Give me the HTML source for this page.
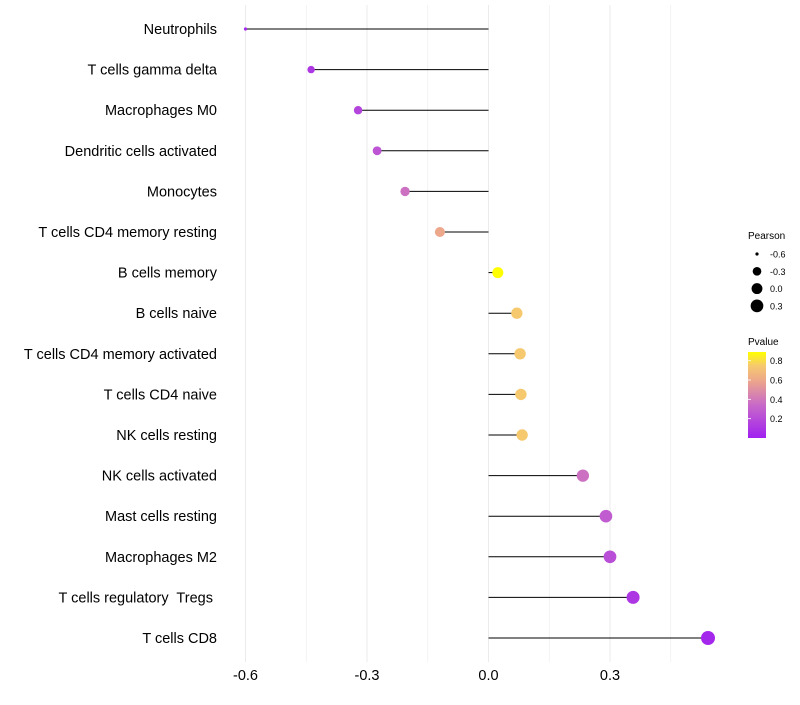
<!DOCTYPE html>
<html><head><meta charset="utf-8"><style>
body{margin:0;background:#fff;font-family:"Liberation Sans",Arial,sans-serif}
text{white-space:pre}
</style></head><body>
<svg id="c" width="800" height="700" xmlns="http://www.w3.org/2000/svg">
<defs><linearGradient id="pg" x1="0" y1="1" x2="0" y2="0">
<stop offset="0" stop-color="#A020F0"/><stop offset="0.386" stop-color="#C86AC8"/><stop offset="0.67" stop-color="#EDA78A"/><stop offset="0.84" stop-color="#F6C96E"/><stop offset="1" stop-color="#FFFF00"/></linearGradient></defs>
<g id="grid"></g><g id="marks"></g><g id="labels"></g><g id="legend"></g>
</svg>
<script>
const categories=["Neutrophils","T cells gamma delta","Macrophages M0","Dendritic cells activated","Monocytes","T cells CD4 memory resting","B cells memory","B cells naive","T cells CD4 memory activated","T cells CD4 naive","NK cells resting","NK cells activated","Mast cells resting","Macrophages M2","T cells regulatory  Tregs ","T cells CD8"];
const pearson=[-0.6,-0.438,-0.322,-0.275,-0.206,-0.12,0.023,0.07,0.078,0.08,0.083,0.233,0.29,0.3,0.357,0.542];
const pvalue=[0.05,0.12,0.18,0.25,0.38,0.6,0.89,0.75,0.75,0.75,0.75,0.38,0.28,0.22,0.12,0.04];
const xTicks=[-0.6,-0.3,0.0,0.3];
const xTickLabels=["-0.6","-0.3","0.0","0.3"];
const sizeLegend=[-0.6,-0.3,0.0,0.3];
const pLegend=[0.2,0.4,0.6,0.8];
const NS="http://www.w3.org/2000/svg";
const x=v=>488.5+v*405;
const y=i=>29+i*40.6;
const r=v=>v<=-0.58?1.6:Math.sqrt(Math.max(4,13.7+36*(v+0.44)));
function mk(tag,attrs,parent,txt){const e=document.createElementNS(NS,tag);for(const k in attrs)e.setAttribute(k,attrs[k]);if(txt!==undefined)e.textContent=txt;parent.appendChild(e);return e;}
const cstops=[[0.01,[160,32,240]],[0.35,[200,106,200]],[0.6,[237,167,138]],[0.75,[246,201,110]],[0.89,[255,255,0]]];
function col(p){p=Math.min(0.89,Math.max(0.01,p));
 for(let i=1;i<cstops.length;i++){if(p<=cstops[i][0]){const a=cstops[i-1],b=cstops[i];const t=(p-a[0])/(b[0]-a[0]);
 const c=a[1].map((v,k)=>Math.round(v+(b[1][k]-v)*t));return `rgb(${c[0]},${c[1]},${c[2]})`;}}
 return 'rgb(255,255,0)';}
const grid=document.getElementById('grid'),marks=document.getElementById('marks'),labels=document.getElementById('labels'),leg=document.getElementById('legend');
for(let k=-4;k<=3;k++){const v=k*0.15;const gl=mk('line',{x1:x(v),x2:x(v),y1:5,y2:662,stroke:'#ebebeb','stroke-width':k%2===0?1:0.6},grid);

}
xTicks.forEach((v,i)=>{const t=mk('text',{x:x(v),y:680,'text-anchor':'middle','font-size':14.5,fill:'#000'},labels,xTickLabels[i]);

});
categories.forEach((c,i)=>{
 const t=mk('text',{x:217,y:y(i)+5,'text-anchor':'end','font-size':14.5,fill:'#000'},labels,c);
 
 
 const l=mk('line',{x1:x(0),x2:x(pearson[i]),y1:y(i),y2:y(i),stroke:'#000','stroke-width':1},marks);
 
 
 const d=mk('circle',{cx:x(pearson[i]),cy:y(i),r:r(pearson[i]),fill:col(pvalue[i])},marks);
 
 
});
const pt=mk('text',{x:748,y:239,'font-size':10},leg,'Pearson');


sizeLegend.forEach((v,i)=>{const yy=254+i*17.3;
 const c=mk('circle',{cx:757,cy:yy,r:r(v),fill:'#000'},leg);
 
 
 const t=mk('text',{x:770,y:yy+3.5,'font-size':9},leg,String(v.toFixed(1)));
 
 });
const pv=mk('text',{x:748,y:345,'font-size':10},leg,'Pvalue');


const bar=mk('rect',{x:748,y:352,width:18,height:86,fill:'url(#pg)'},leg);


pLegend.forEach(p=>{const yy=437-(p-0.01)/0.88*85;
 const tk=mk('line',{x1:748,x2:751,y1:yy,y2:yy,stroke:'#fff','stroke-width':0.8},leg);
 
 
 const t=mk('text',{x:770,y:yy+3.5,'font-size':9},leg,p.toFixed(1));
 
 });
</script>
</body></html>
